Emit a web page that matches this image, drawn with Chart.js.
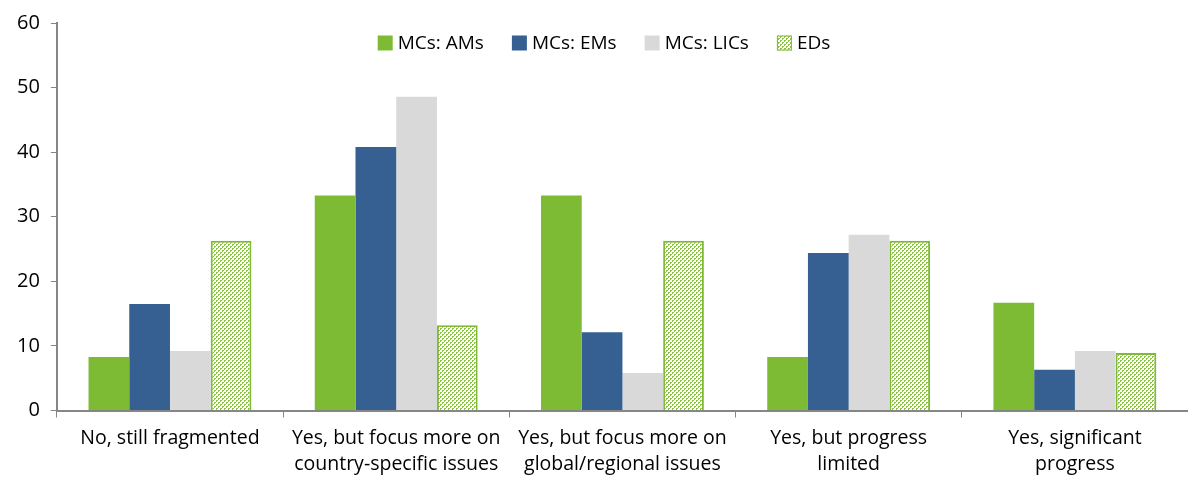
<!DOCTYPE html>
<html>
<head>
<meta charset="utf-8">
<script src="https://cdn.jsdelivr.net/npm/chart.js@4/dist/chart.umd.min.js"></script>
<style>
  html, body { margin: 0; padding: 0; background: #fff; }
  #wrap { width: 1188px; height: 485px; }
</style>
</head>
<body>
<div id="wrap"><canvas id="c" width="1188" height="485"></canvas></div>
<script>
const categories = [
  ['No, still fragmented'],
  ['Yes, but focus more on', 'country-specific issues'],
  ['Yes, but focus more on', 'global/regional issues'],
  ['Yes, but progress', 'limited'],
  ['Yes, significant', 'progress']
];
const seriesNames = ['MCs: AMs', 'MCs: EMs', 'MCs: LICs', 'EDs'];
const amsValues  = [8.3, 33.3, 33.3, 8.3, 16.7];
const emsValues  = [16.5, 40.8, 12.1, 24.4, 6.3];
const licsValues = [9.2, 48.6, 5.8, 27.2, 9.2];
const edsValues  = [26.3, 13.2, 26.3, 26.3, 8.9];
const yTicks = [0, 10, 20, 30, 40, 50, 60];

// dotted green fill used for the EDs bars
function makeDotPattern() {
  const p = document.createElement('canvas');
  p.width = 4; p.height = 4;
  const g = p.getContext('2d');
  g.fillStyle = '#ffffff';
  g.fillRect(0, 0, 4, 4);
  g.fillStyle = '#8cc63f';
  g.fillRect(0, 0, 2, 1);
  g.fillRect(2, 2, 2, 1);
  g.fillRect(0, 1, 1, 1);
  g.fillRect(2, 3, 1, 1);
  return g.createPattern(p, 'repeat');
}
const dots = makeDotPattern();

const FONT = '"Open Sans", Lato, sans-serif';
const AXIS = '#868686';

// single-row legend drawn inside the plot area, near its top
const insideLegend = {
  id: 'insideLegend',
  afterDatasetsDraw(chart) {
    const ctx = chart.ctx;
    const box = 15, gapText = 5, gapItem = 28;
    ctx.save();
    ctx.font = '19px ' + FONT;
    ctx.textBaseline = 'middle';
    const items = chart.data.datasets.map(ds => ({
      ds, w: ctx.measureText(ds.label).width
    }));
    const total = items.reduce((s, it) => s + box + gapText + it.w, 0) + gapItem * (items.length - 1);
    let x = 604 - total / 2;
    const y = 43;
    items.forEach(it => {
      ctx.fillStyle = it.ds.backgroundColor;
      ctx.fillRect(x, y - box / 2, box, box);
      if (it.ds.borderWidth) {
        ctx.strokeStyle = it.ds.borderColor;
        ctx.lineWidth = 1;
        ctx.strokeRect(x + 0.5, y - box / 2 + 0.5, box - 1, box - 1);
      }
      x += box + gapText;
      ctx.fillStyle = '#000';
      ctx.fillText(it.ds.label, x, y + 1);
      x += it.w + gapItem;
    });
    ctx.restore();
  }
};

new Chart(document.getElementById('c'), {
  type: 'bar',
  data: {
    labels: categories,
    datasets: [
      { label: seriesNames[0], data: amsValues,  backgroundColor: '#7cbb33', borderWidth: 0 },
      { label: seriesNames[1], data: emsValues,  backgroundColor: '#356091', borderWidth: 0 },
      { label: seriesNames[2], data: licsValues, backgroundColor: '#d9d9d9', borderWidth: 0 },
      { label: seriesNames[3], data: edsValues,  backgroundColor: dots, borderColor: '#7cbb33', borderWidth: 2 }
    ]
  },
  plugins: [insideLegend],
  options: {
    responsive: false,
    animation: false,
    layout: { padding: { top: 2, right: 0, left: 6, bottom: 0 } },
    datasets: { bar: { categoryPercentage: 0.72, barPercentage: 1.0 } },
    plugins: {
      tooltip: { enabled: false },
      legend: { display: false }
    },
    scales: {
      x: {
        offset: true,
        grid: { display: true, drawOnChartArea: false, drawTicks: true, tickLength: 7, color: AXIS, offset: true },
        border: { display: true, color: AXIS, width: 2 },
        ticks: { font: { family: FONT, size: 19.5, lineHeight: 1.32 }, color: '#000', maxRotation: 0, autoSkip: false, padding: 8 }
      },
      y: {
        min: 0, max: 60,
        afterBuildTicks: (axis) => { axis.ticks = yTicks.map(v => ({ value: v })); },
        grid: { display: true, drawOnChartArea: false, drawTicks: true, tickLength: 6, color: AXIS },
        border: { display: true, color: AXIS, width: 2 },
        ticks: { font: { family: FONT, size: 20 }, color: '#000', padding: 11 }
      }
    }
  }
});
</script>
</body>
</html>
